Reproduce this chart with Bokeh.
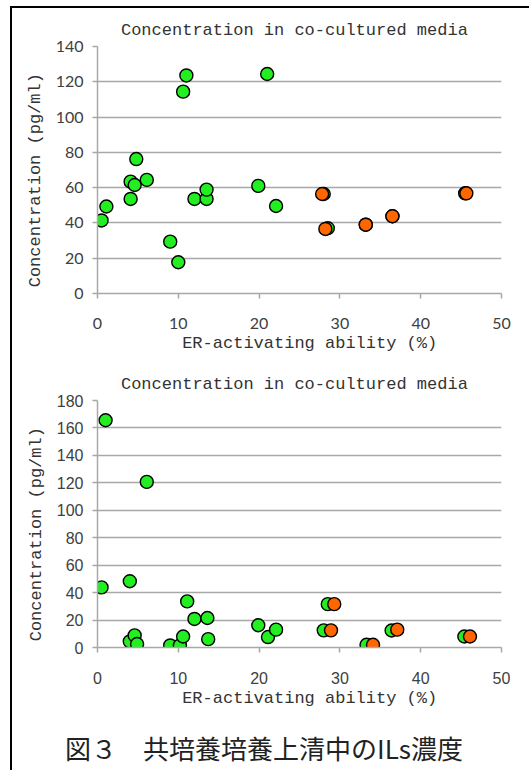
from bokeh.plotting import figure
from bokeh.models import Range1d, FixedTicker, Div
from bokeh.layouts import column
from bokeh.embed import file_html
from bokeh.resources import INLINE

# ---- data ----
x_ticks = [0, 10, 20, 30, 40, 50]
top_y_ticks = [0, 20, 40, 60, 80, 100, 120, 140]
bottom_y_ticks = [0, 20, 40, 60, 80, 100, 120, 140, 160, 180]

top_green_x = [0.5, 1.1, 4.1, 4.1, 4.6, 4.8, 6.1, 9.0, 10.0, 10.6, 11.0, 12.0, 13.5, 13.5,
               19.9, 21.0, 22.1, 28.0, 28.5, 33.2, 36.5, 45.5]
top_green_y = [41.4, 49.3, 53.6, 63.4, 61.5, 76.2, 64.4, 29.4, 17.7, 114.4, 123.6, 53.6, 53.6, 58.9,
               61.0, 124.4, 49.6, 56.4, 37.0, 39.0, 43.8, 56.8]
top_orange_x = [27.8, 28.2, 33.2, 36.5, 45.65]
top_orange_y = [56.4, 36.6, 39.0, 43.8, 56.8]

bottom_green_x = [0.5, 1.0, 4.0, 4.0, 4.6, 4.9, 6.1, 9.0, 10.2, 10.6, 11.1, 12.0, 13.6, 13.7,
                  19.9, 21.1, 22.1, 28.0, 28.5, 33.3, 36.4, 45.4]
bottom_green_y = [43.8, 165.6, 48.3, 4.4, 8.8, 2.5, 120.7, 1.5, 1.5, 8.0, 33.6, 20.8, 21.5, 6.1,
                  16.2, 7.6, 13.0, 12.5, 31.6, 2.0, 12.4, 8.0]
bottom_orange_x = [28.9, 29.3, 34.1, 37.1, 46.1]
bottom_orange_y = [12.5, 31.6, 2.0, 13.0, 8.0]

title_text = "Concentration in co-cultured media"
xlabel_text = "ER-activating ability (%)"
ylabel_text = "Concentration (pg/ml)"
caption_text = "図３　共培養培養上清中のILs濃度"

NBSP = "\u00a0"
GREEN = "#22EE22"
ORANGE = "#FF6600"
GRID = "#A8A8A8"
MONO = "Liberation Mono"


def make_fig(width, height, ymax, yticks, mb, tick_font):
    p = figure(width=width, height=height, output_backend="svg", toolbar_location=None,
               x_range=Range1d(0, 50), y_range=Range1d(0, ymax),
               min_border_left=mb[0], min_border_right=mb[1],
               min_border_top=mb[2], min_border_bottom=mb[3])
    p.outline_line_color = None
    p.xgrid.grid_line_color = None
    p.ygrid.grid_line_color = GRID
    p.ygrid.grid_line_width = 1.5
    p.ygrid.ticker = FixedTicker(ticks=yticks)
    p.xaxis.ticker = FixedTicker(ticks=x_ticks)
    p.yaxis.ticker = FixedTicker(ticks=yticks)
    for ax in (p.xaxis[0], p.yaxis[0]):
        ax.axis_line_color = GRID
        ax.axis_line_width = 1.5
        ax.major_tick_line_color = GRID
        ax.major_tick_line_width = 1.5
        ax.major_tick_out = 5
        ax.major_tick_in = 0
        ax.minor_tick_line_color = None
        ax.major_label_text_font = tick_font
        ax.major_label_text_font_size = "16px"
        ax.major_label_text_color = "#404040"
    p.xaxis.major_label_standoff = 19
    p.yaxis.major_label_standoff = 9

    p.title.text = title_text + NBSP
    p.title.text_font = MONO
    p.title.text_font_size = "17px"
    p.title.text_font_style = "normal"
    p.title.text_color = "#333333"
    p.title.align = "center"
    p.title.standoff = 14

    p.xaxis.axis_label = NBSP + NBSP + xlabel_text
    p.xaxis.axis_label_text_font = MONO
    p.xaxis.axis_label_text_font_size = "17px"
    p.xaxis.axis_label_text_font_style = "normal"
    p.xaxis.axis_label_text_color = "#333333"
    p.xaxis.axis_label_standoff = 2

    p.yaxis.axis_label = ylabel_text + NBSP + NBSP
    p.yaxis.axis_label_text_font = MONO
    p.yaxis.axis_label_text_font_size = "17px"
    p.yaxis.axis_label_text_font_style = "normal"
    p.yaxis.axis_label_text_color = "#333333"
    p.yaxis.axis_label_standoff = 8
    return p


# ---- top chart ----
p1 = make_fig(517, 347, 140, top_y_ticks, (82, 28, 38, 62), "Lato")
p1.scatter(top_green_x, top_green_y, size=13, fill_color=GREEN, line_color="black", line_width=1.4)
p1.scatter(top_orange_x, top_orange_y, size=13, fill_color=ORANGE, line_color="black", line_width=1.4)

# ---- bottom chart ----
p2 = make_fig(517, 355, 180, bottom_y_ticks, (85, 23, 45, 62), "Liberation Sans")
p2.scatter(bottom_green_x, bottom_green_y, size=13, fill_color=GREEN, line_color="black", line_width=1.4)
p2.scatter(bottom_orange_x, bottom_orange_y, size=13, fill_color=ORANGE, line_color="black", line_width=1.4)

caption = Div(width=517, height=56,
              text=('<div style="width:494px;text-align:center;padding-top:18px;'
                    'font-family:\'Noto Sans CJK JP\';font-size:26px;line-height:30px;color:#222;">'
                    + caption_text + '</div>'))

layout = column(p1, p2, caption, spacing=0, margin=(6, 0, 0, 10),
                styles={"border-left": "2px solid black", "border-top": "2px solid black"})

open("out.html", "w").write(file_html(layout, INLINE))
